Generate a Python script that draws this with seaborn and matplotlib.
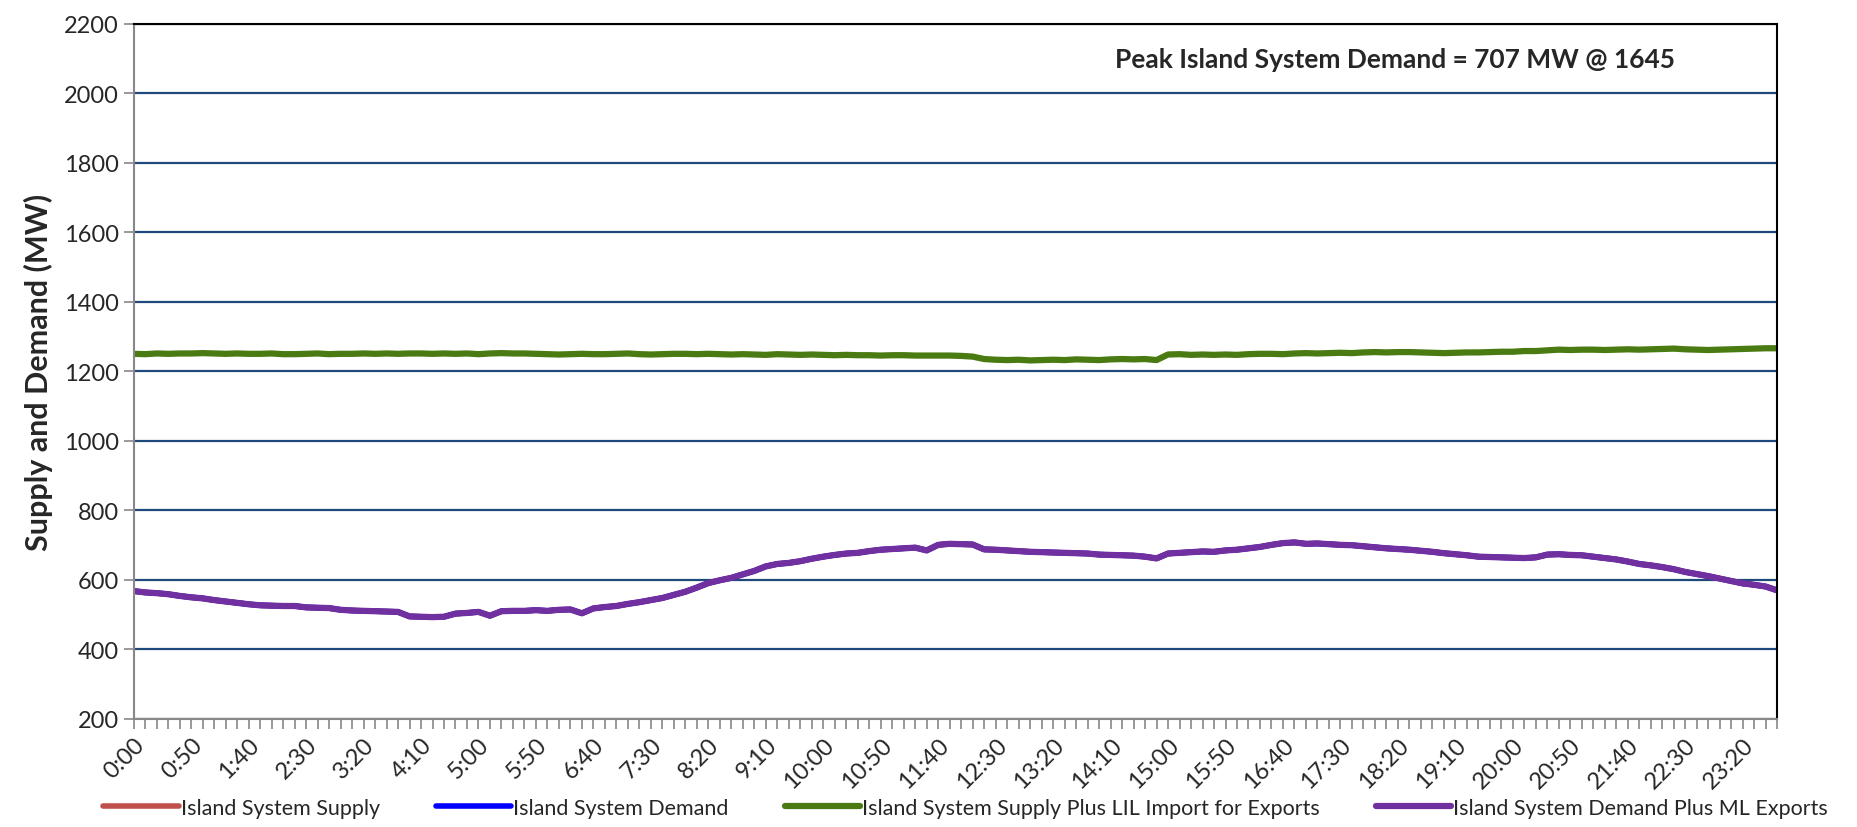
import numpy as np
import pandas as pd
import seaborn as sns
import matplotlib.pyplot as plt

# 10-minute intervals over one day
times = [f"{m // 60}:{m % 60:02d}" for m in range(0, 24 * 60, 10)]

demand_ml = [
    567, 563, 561, 558, 553, 549, 546, 541, 537, 533,
    529, 526, 525, 524, 524, 520, 519, 518, 513, 511,
    510, 509, 508, 507, 494, 493, 492, 493, 502, 504,
    507, 496, 509, 510, 510, 512, 510, 513, 514, 503,
    517, 521, 524, 530, 535, 541, 547, 556, 565, 577,
    590, 598, 605, 615, 625, 638, 645, 648, 653, 660,
    666, 671, 675, 677, 682, 686, 688, 690, 692, 684,
    700, 703, 702, 701, 687, 686, 684, 682, 680, 679,
    678, 677, 676, 675, 672, 671, 670, 669, 666, 661,
    675, 677, 679, 681, 680, 684, 686, 690, 694, 700,
    705, 707, 703, 704, 702, 700, 699, 696, 693, 690,
    688, 686, 683, 680, 676, 673, 670, 666, 665, 664,
    663, 662, 664, 672, 673, 671, 670, 666, 662, 658,
    652, 645, 641, 636, 630, 622, 616, 610, 603, 596,
    589, 585, 580, 569,
]
# supply and demand sit under the ML-exports line
island_supply = list(demand_ml)
island_demand = list(demand_ml)

supply_lil = [
    1250, 1249, 1251, 1250, 1251, 1251, 1252, 1251, 1250, 1251,
    1250, 1250, 1251, 1249, 1249, 1250, 1251, 1249, 1250, 1250,
    1251, 1250, 1251, 1250, 1251, 1251, 1250, 1251, 1250, 1251,
    1249, 1251, 1252, 1251, 1251, 1250, 1249, 1248, 1249, 1250,
    1249, 1249, 1250, 1251, 1249, 1248, 1249, 1250, 1250, 1249,
    1250, 1249, 1248, 1249, 1248, 1247, 1249, 1248, 1247, 1248,
    1247, 1246, 1247, 1246, 1246, 1245, 1246, 1246, 1245, 1245,
    1245, 1245, 1244, 1242, 1235, 1233, 1232, 1233, 1231, 1232,
    1233, 1232, 1234, 1233, 1232, 1234, 1235, 1234, 1235, 1232,
    1248, 1249, 1247, 1248, 1247, 1248, 1247, 1249, 1250, 1250,
    1249, 1251, 1252, 1251, 1252, 1253, 1252, 1254, 1255, 1254,
    1255, 1255, 1254, 1253, 1252, 1253, 1254, 1254, 1255, 1256,
    1256, 1258, 1258, 1260, 1262, 1261, 1262, 1262, 1261, 1262,
    1263, 1262, 1263, 1264, 1265, 1263, 1262, 1261, 1262, 1263,
    1264, 1265, 1266, 1266,
]

series = [
    ("Island System Supply", island_supply, "#C0504D", 4),
    ("Island System Demand", island_demand, "#0000FF", 4),
    ("Island System Supply Plus LIL Import for Exports", supply_lil, "#4A7A12", 4.5),
    ("Island System Demand Plus ML Exports", demand_ml, "#7030A0", 4.5),
]

sns.set_style("white")
plt.rcParams["font.family"] = ["Lato", "DejaVu Sans"]

fig = plt.figure(figsize=(18.57, 8.28), dpi=100)
ax = fig.add_axes([0.072, 0.131, 0.885, 0.839])

idx = np.arange(len(times))
for name, vals, col, lw in series:
    sns.lineplot(x=idx, y=vals, color=col, linewidth=lw, label=name, ax=ax)

ax.set_ylim(200, 2200)
ax.set_yticks(range(200, 2201, 200))
ax.set_xlim(0, len(times) - 1)
ax.yaxis.grid(True, color="#1F497D", linewidth=1.6)
ax.set_axisbelow(True)

ax.set_xticks(idx)
ax.set_xticklabels([t if i % 5 == 0 else "" for i, t in enumerate(times)],
                   rotation=45, ha="right", rotation_mode="anchor", fontsize=17)
ax.tick_params(axis="x", length=7, width=1.2, color="#888888", direction="out", pad=4, bottom=True)
ax.tick_params(axis="y", length=7, width=1.2, color="#888888", direction="out", labelsize=17, left=True)

for s in ["left", "bottom"]:
    ax.spines[s].set_color("#888888")
    ax.spines[s].set_linewidth(1.5)
for s in ["right", "top"]:
    ax.spines[s].set_color("black")
    ax.spines[s].set_linewidth(1.5)

ax.set_ylabel("Supply and Demand (MW)", fontsize=22, fontweight="bold", labelpad=8)
ax.set_xlabel("")

ax.text(0.938, 0.949, "Peak Island System Demand = 707 MW @ 1645",
        transform=ax.transAxes, ha="right", va="center", fontsize=19, fontweight="bold")

handles, labels = ax.get_legend_handles_labels()
ax.get_legend().remove()
fig.legend(handles, labels, loc="lower center", bbox_to_anchor=(0.52, -0.012), ncol=4,
           frameon=False, fontsize=15.5, handlelength=3.5, handletextpad=0.1, columnspacing=2.6)

plt.savefig("out.png", dpi=100)
